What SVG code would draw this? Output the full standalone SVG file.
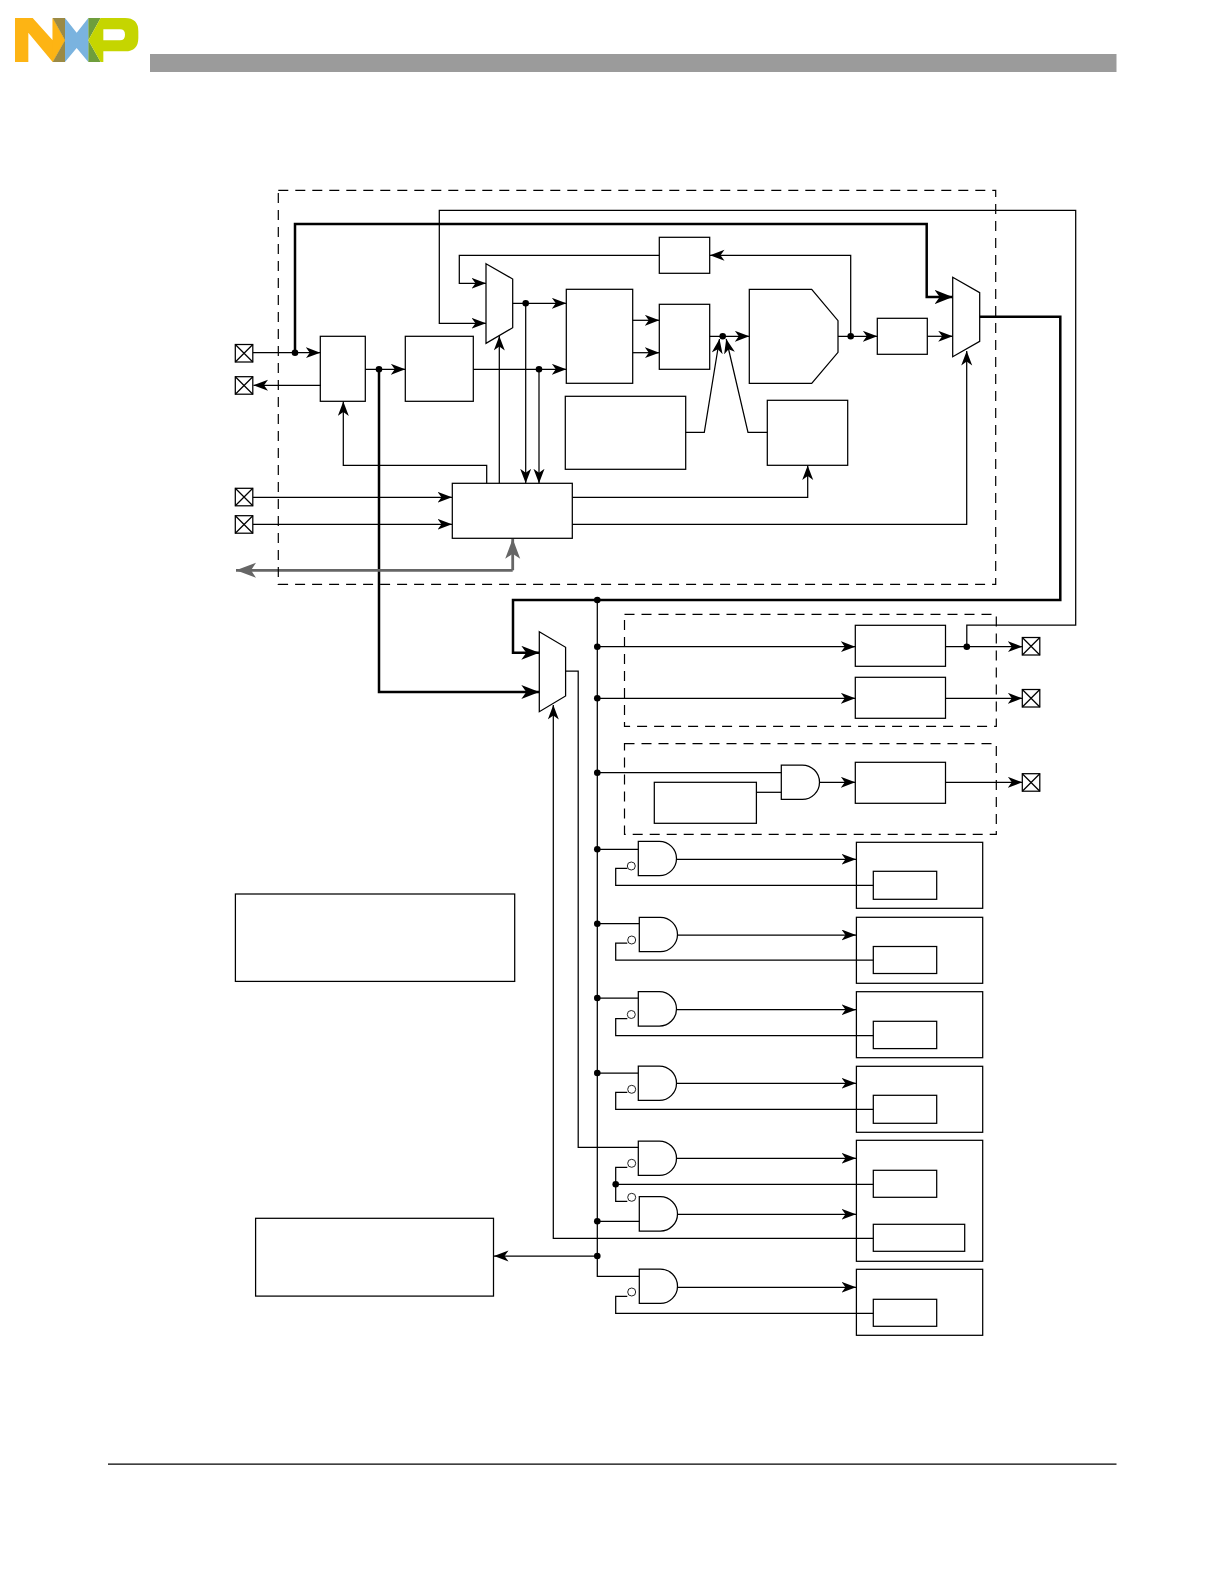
<svg xmlns="http://www.w3.org/2000/svg" width="1224" height="1584" viewBox="0 0 1224 1584">
<style>
.b{fill:none;stroke:#000;stroke-width:1.25}
.d{fill:none;stroke:#000;stroke-width:1.2;stroke-dasharray:10 7}
.l{fill:none;stroke:#000;stroke-width:1.25}
.a{marker-end:url(#ah)}
.t{fill:none;stroke:#000;stroke-width:2.5}
.ta{marker-end:url(#at)}
.g{fill:none;stroke:#666;stroke-width:2.8;marker-end:url(#ag)}
.bb{fill:#fff;stroke:#222;stroke-width:1}
</style>
<defs>
<marker id="ah" markerUnits="userSpaceOnUse" markerWidth="16" markerHeight="12" refX="14.5" refY="5.5" orient="auto"><path d="M14.5,5.5 L0,0 L4,5.5 L0,11 Z" fill="#000"/></marker>
<marker id="at" markerUnits="userSpaceOnUse" markerWidth="19" markerHeight="15" refX="18" refY="7" orient="auto"><path d="M18,7 L0,0 L5,7 L0,14 Z" fill="#000"/></marker>
<marker id="ag" markerUnits="userSpaceOnUse" markerWidth="21" markerHeight="16" refX="20" refY="7.5" orient="auto"><path d="M20,7.5 L0,0 L5,7.5 L0,15 Z" fill="#666"/></marker>
<g id="pin"><rect class="b" x="0" y="0" width="17.5" height="17.5"/><path class="b" d="M0,0 L17.5,17.5 M17.5,0 L0,17.5"/></g>
<path id="gate" class="b" d="M0,0 H21 A17.2,17.2 0 0 1 21,34.4 H0 Z"/>
<circle id="dot" r="3.3" fill="#000"/>
</defs>
<rect width="1224" height="1584" fill="#fff"/>

<g id="logo" transform="translate(10,12) scale(.33333)">
<path fill="#fdb414" d="M15,18 H68 L128,85 V18 L165,85 L128,150 L55,62 V150 H15 Z"/>
<path fill="#fdb414" d="M128,18 L165,85 L128,150 Z"/>
<path fill="#9b8a45" d="M128,18 H165 V85 Z M128,150 H165 V85 Z"/>
<path fill="#7ab3df" d="M165,18 L200,62 L235,18 V150 L200,108 L165,150 Z"/>
<path fill="#6e9e3c" d="M235,18 H272 L235,85 Z M235,150 H272 L235,85 Z"/>
<path fill="#c5d500" fill-rule="evenodd" d="M272,18 H345 Q385,18 385,58 V78 Q385,118 345,118 H280 V150 H272 L235,85 Z M280,52 V85 H330 Q345,85 345,68 Q345,52 330,52 Z"/>
</g>
<rect id="header-bar" x="150" y="54" width="966.5" height="18" fill="#9b9b9b"/>
<path id="footer-rule" class="b" d="M108,1464 H1116.5"/>

<g id="connectors">
<path class="l a" d="M253,352.7 H320.3"/>
<path class="l a" d="M321,385.3 H253.5"/>
<path class="l a" d="M365.3,369.3 H405.3"/>
<path class="l a" d="M473.3,369.3 H566.3"/>
<path class="l a" d="M512.7,303.3 H566.3"/>
<path class="l a" d="M525.7,303.3 V483.3"/>
<path class="l a" d="M539,369.3 V483.3"/>
<path class="l a" d="M499.3,483.3 V336"/>
<path class="l a" d="M486.7,483.3 V465.3 H343.3 V401.5"/>
<path class="l a" d="M253,497.3 H452"/>
<path class="l a" d="M253,524.3 H452"/>
<path class="l a" d="M659.3,255.3 H459.3 V283.3 H486"/>
<path class="l a" d="M966.8,646.7 V625 H1075.7 V210.3 H439.3 V323.3 H486"/>
<path class="l a" d="M632.7,320.3 H659.3"/>
<path class="l a" d="M632.7,352.7 H659.3"/>
<path class="l a" d="M709.7,336.3 H749.3"/>
<path class="l a" d="M838,336.3 H877.3"/>
<path class="l a" d="M850.7,336.3 V255.3 H710"/>
<path class="l a" d="M927.3,336.3 H952.7"/>
<path class="l a" d="M685.7,432.3 H704.3 L719.5,339"/>
<path class="l a" d="M767.3,432.3 H748 L726.2,339"/>
<path class="l a" d="M572.3,497.3 H807.7 V465.5"/>
<path class="l a" d="M572.3,524.3 H966.7 V351"/>
<path class="t ta" d="M295,352.7 V224 H926.7 V297 H952.7"/>
<path class="t ta" d="M979.7,316.7 H1060.3 V600 H513 V652.8 H539.3"/>
<path class="t ta" d="M379,369.3 V692 H539.3"/>
<path class="g" d="M512.7,570.3 V538.8"/>
<path class="g" d="M512.7,570.3 H236"/>
<path class="l" d="M597.3,600 V1276.3 H639.3"/>
<path class="l a" d="M597.3,1256 H494"/>
<path class="l" d="M565.6,671 H578.2 V1147.3 H638.3"/>
<path class="l a" d="M873.3,1238.3 H553.3 V705"/>
<path class="l a" d="M597.3,646.7 H855.3"/>
<path class="l a" d="M597.3,698.3 H855.3"/>
<path class="l a" d="M945.5,646.7 H1022.3"/>
<path class="l a" d="M945.5,698.3 H1022.3"/>
<path class="l a" d="M945.5,782.3 H1022.3"/>
<path class="l" d="M597.3,772.7 H781.3"/>
<path class="l" d="M756.4,792.3 H781.3"/>
<path class="l a" d="M819.9,782.3 H855.3"/>
<path class="l" d="M597.3,849.3 H638.3"/>
<path class="l a" d="M676.7,859.3 H856"/>
<path class="l" d="M627.3,868.3 H615.7 V885.3 H873.3"/>
<path class="l" d="M597.3,923.7 H639.3"/>
<path class="l a" d="M677.7,935 H856"/>
<path class="l" d="M627.3,943 H615.7 V960 H873.3"/>
<path class="l" d="M597.3,998 H638.3"/>
<path class="l a" d="M676.7,1009.7 H856"/>
<path class="l" d="M627.3,1018.5 H615.7 V1035.5 H873.3"/>
<path class="l" d="M597.3,1073 H638.3"/>
<path class="l a" d="M676.7,1083.3 H856"/>
<path class="l" d="M627.3,1092.3 H615.7 V1109.3 H873.3"/>
<path class="l a" d="M676.7,1158.3 H856"/>
<path class="l" d="M627.3,1167.3 H615.7 V1201.3 H627.3"/>
<path class="l" d="M615.7,1184.3 H873.3"/>
<path class="l" d="M597.3,1221.3 H639.3"/>
<path class="l a" d="M677.7,1214.3 H856"/>
<path class="l a" d="M677.7,1287.3 H856"/>
<path class="l" d="M627.3,1296.3 H615.7 V1313.3 H873.3"/>
<use href="#dot" x="295" y="352.7"/>
<use href="#dot" x="379" y="369.3"/>
<use href="#dot" x="525.7" y="303.3"/>
<use href="#dot" x="539" y="369.3"/>
<use href="#dot" x="722.7" y="336.3"/>
<use href="#dot" x="850.7" y="336.3"/>
<use href="#dot" x="597.3" y="600"/>
<use href="#dot" x="597.3" y="646.7"/>
<use href="#dot" x="597.3" y="698.3"/>
<use href="#dot" x="597.3" y="772.7"/>
<use href="#dot" x="597.3" y="849.3"/>
<use href="#dot" x="597.3" y="923.7"/>
<use href="#dot" x="597.3" y="998"/>
<use href="#dot" x="597.3" y="1073"/>
<use href="#dot" x="597.3" y="1221.3"/>
<use href="#dot" x="597.3" y="1256"/>
<use href="#dot" x="615.7" y="1184.3"/>
<use href="#dot" x="966.8" y="646.7"/>
</g>

<g id="region-core"><rect class="d" x="278.3" y="190.3" width="717.4" height="394"/></g>
<g id="region-out1"><rect class="d" x="624.5" y="614.3" width="371.8" height="112"/></g>
<g id="region-out2"><rect class="d" x="624.5" y="743.7" width="371.8" height="90.6"/></g>

<g id="pin-1"><use href="#pin" x="235.3" y="344.5"/></g>
<g id="pin-2"><use href="#pin" x="235.3" y="376.7"/></g>
<g id="pin-3"><use href="#pin" x="235.3" y="488.3"/></g>
<g id="pin-4"><use href="#pin" x="235.3" y="515.7"/></g>
<g id="pin-5"><use href="#pin" x="1022.3" y="637.5"/></g>
<g id="pin-6"><use href="#pin" x="1022.3" y="689.5"/></g>
<g id="pin-7"><use href="#pin" x="1022.3" y="773.7"/></g>

<g id="node-a"><rect class="b" x="320.3" y="336.3" width="45" height="65"/></g>
<g id="node-b"><rect class="b" x="405.3" y="336.3" width="68" height="65"/></g>
<g id="mux-1"><path class="b" d="M486,263.7 L512.7,279 V327.7 L486,343.3 Z"/></g>
<g id="node-c"><rect class="b" x="566.3" y="289.3" width="66.4" height="94"/></g>
<g id="node-d"><rect class="b" x="659.3" y="304.3" width="50.4" height="65"/></g>
<g id="node-top"><rect class="b" x="659.3" y="237.3" width="50.4" height="36"/></g>
<g id="node-alu"><path class="b" d="M749.3,289.3 H811.7 L838,320.7 V352.3 L811.7,383.3 H749.3 Z"/></g>
<g id="node-e"><rect class="b" x="877.3" y="318.3" width="50" height="36"/></g>
<g id="mux-2"><path class="b" d="M952.7,277.3 L979.7,292.7 V341.3 L952.7,356.7 Z"/></g>
<g id="node-g"><rect class="b" x="565.3" y="396.3" width="120.4" height="73"/></g>
<g id="node-f"><rect class="b" x="767.3" y="400.3" width="80.4" height="65"/></g>
<g id="node-ctrl"><rect class="b" x="452.3" y="483.3" width="120" height="55"/></g>
<g id="mux-3"><path class="b" d="M539.3,631.7 L565.6,647.3 V696 L539.3,711.7 Z"/></g>
<g id="node-o1"><rect class="b" x="855.3" y="625.3" width="90.2" height="41"/></g>
<g id="node-o2"><rect class="b" x="855.3" y="677.3" width="90.2" height="41"/></g>
<g id="node-o3"><rect class="b" x="855.3" y="762.3" width="90.2" height="41"/></g>
<g id="node-o4"><rect class="b" x="654.3" y="782.3" width="102.1" height="41"/></g>
<g id="gate-0"><use href="#gate" x="781.3" y="765"/></g>

<g id="left-1"><rect class="b" x="235.4" y="894" width="279.3" height="87.4"/></g>
<g id="left-2"><rect class="b" x="255.6" y="1218.3" width="237.9" height="77.8"/></g>

<g id="unit-1"><rect class="b" x="856.4" y="842.3" width="126.3" height="66"/><rect class="b" x="873.3" y="871.3" width="63.4" height="28"/>
<use href="#gate" x="638.3" y="841.3"/><circle class="bb" cx="631.3" cy="866" r="4"/></g>
<g id="unit-2"><rect class="b" x="856.4" y="917.3" width="126.3" height="66"/><rect class="b" x="873.3" y="946.5" width="63.4" height="27"/>
<use href="#gate" x="639.3" y="917.3"/><circle class="bb" cx="631.7" cy="940" r="4"/></g>
<g id="unit-3"><rect class="b" x="856.4" y="991.7" width="126.3" height="66"/><rect class="b" x="873.3" y="1021.3" width="63.4" height="27.3"/>
<use href="#gate" x="638.3" y="991.7"/><circle class="bb" cx="631.3" cy="1014.5" r="4"/></g>
<g id="unit-4"><rect class="b" x="856.4" y="1066.3" width="126.3" height="66"/><rect class="b" x="873.3" y="1095.3" width="63.4" height="28"/>
<use href="#gate" x="638.3" y="1066"/><circle class="bb" cx="631.7" cy="1089.3" r="4"/></g>
<g id="unit-5"><rect class="b" x="856.4" y="1140.3" width="126.3" height="121"/><rect class="b" x="873.3" y="1170.3" width="63.4" height="27"/><rect class="b" x="873.3" y="1224.3" width="91.4" height="27"/>
<use href="#gate" x="638.3" y="1141"/><circle class="bb" cx="631.7" cy="1163.3" r="4"/>
<use href="#gate" x="639.3" y="1196.7"/><circle class="bb" cx="631.7" cy="1197.3" r="4"/></g>
<g id="unit-6"><rect class="b" x="856.4" y="1269.3" width="126.3" height="66"/><rect class="b" x="873.3" y="1299.3" width="63.4" height="27"/>
<use href="#gate" x="639.3" y="1269"/><circle class="bb" cx="631.7" cy="1292" r="4"/></g>
</svg>
